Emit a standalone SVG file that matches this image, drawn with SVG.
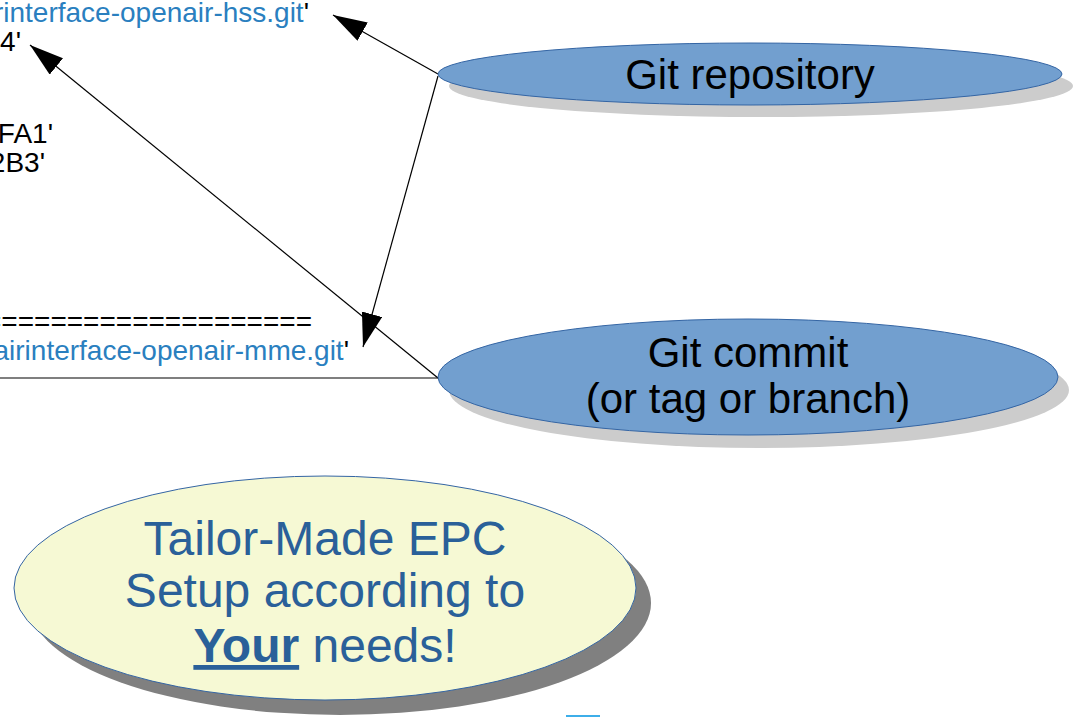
<svg xmlns="http://www.w3.org/2000/svg" width="1073" height="718" viewBox="0 0 1073 718">
  <style>
    .src { font-family: "Liberation Sans", Arial, sans-serif; font-size: 28px; fill: #000; }
    .url { fill: #2a7fbf; }
    .lbl { font-family: "Liberation Sans", Arial, sans-serif; font-size: 42px; fill: #000; text-anchor: middle; }
    .big { font-family: "Liberation Sans", Arial, sans-serif; font-size: 48px; fill: #2a6099; text-anchor: middle; }
    .node { fill: #729fcf; stroke: #3465a4; stroke-width: 1; }
    .shade { fill: #cccccc; }
    .conn { stroke: #000; stroke-width: 1.2; fill: none; }
  </style>
  <defs>
    <marker id="arrow" markerUnits="userSpaceOnUse" markerWidth="35" markerHeight="22" refX="34" refY="10.5" orient="auto">
      <path d="M0,0 L34,10.5 L0,21 z" fill="#000"/>
    </marker>
  </defs>
  <rect width="1073" height="718" fill="#fff"/>

  <!-- configuration listing, clipped at the left edge -->
  <g id="listing">
    <text class="src" x="309" y="22" text-anchor="end"><tspan class="url">https://gitlab.eurecom.fr/oai/openairinterface-openair-hss.git</tspan>'</text>
    <text class="src" x="21" y="51" text-anchor="end">'0B1C2D3E4'</text>
    <text class="src" x="53" y="143" text-anchor="end">'DEADBEEFA1'</text>
    <text class="src" x="45" y="172" text-anchor="end">'CAFE0012B3'</text>
    <text class="src" x="312" y="331" text-anchor="end">================================</text>
    <text class="src" x="349" y="360" text-anchor="end"><tspan class="url">https://gitlab.eurecom.fr/oai/openairinterface-openair-mme.git</tspan>'</text>
  </g>

  <!-- connectors -->
  <g id="connectors">
    <line class="conn" x1="438" y1="74" x2="333" y2="15" marker-end="url(#arrow)"/>
    <line class="conn" x1="438" y1="76" x2="363" y2="347" marker-end="url(#arrow)"/>
    <line class="conn" x1="438" y1="378" x2="30" y2="45" marker-end="url(#arrow)"/>
    <line class="conn" x1="0" y1="378" x2="438" y2="378"/>
  </g>

  <g id="git-repository">
    <ellipse class="shade" cx="761" cy="86" rx="312" ry="31"/>
    <ellipse class="node" cx="750" cy="74" rx="312" ry="31"/>
    <text class="lbl" x="750" y="89">Git repository</text>
  </g>

  <g id="git-commit">
    <ellipse class="shade" cx="759" cy="390" rx="310" ry="58"/>
    <ellipse class="node" cx="748" cy="377" rx="310" ry="58"/>
    <text class="lbl" x="748" y="367">Git commit</text>
    <text class="lbl" x="748" y="413">(or tag or branch)</text>
  </g>

  <g id="tailor-made">
    <ellipse cx="340" cy="603" rx="311" ry="112" fill="#808080"/>
    <ellipse cx="325" cy="588" rx="311" ry="112" fill="#f6f9d4" stroke="#3465a4" stroke-width="1"/>
    <text class="big" x="325" y="555">Tailor-Made EPC</text>
    <text class="big" x="325" y="607">Setup according to</text>
    <text class="big" x="325" y="662"><tspan font-weight="bold" text-decoration="underline">Your</tspan> needs!</text>
  </g>

  <rect id="slide-edge" x="566" y="715" width="34" height="2" fill="#3daee9"/>
</svg>
